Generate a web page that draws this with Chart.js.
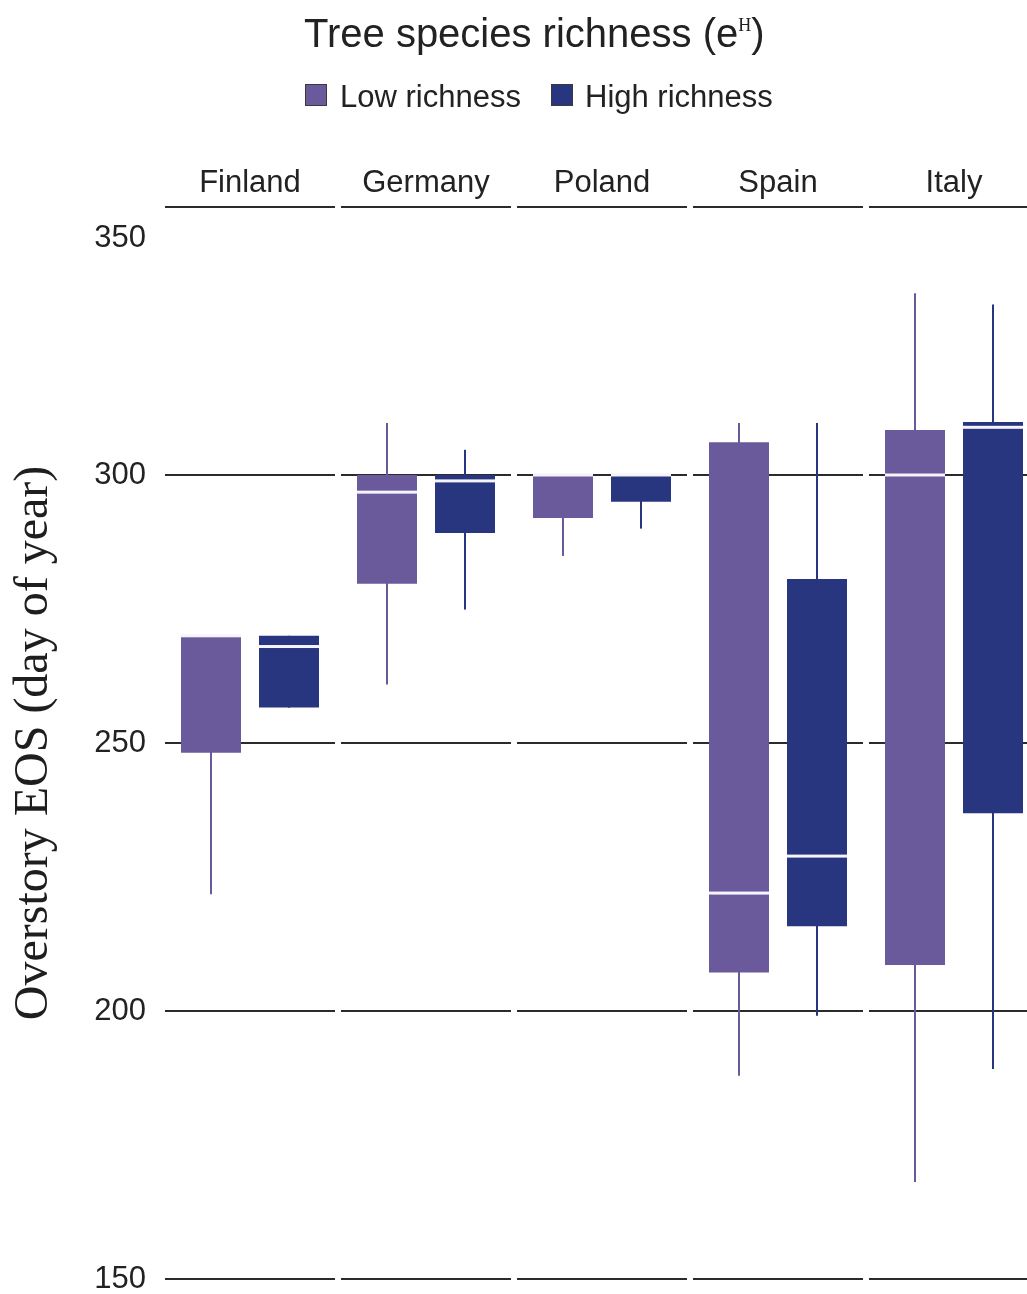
<!DOCTYPE html>
<html>
<head>
<meta charset="utf-8">
<script src="https://cdn.jsdelivr.net/npm/chart.js@4/dist/chart.umd.min.js"></script>
<style>
  html, body { margin: 0; padding: 0; background: #fff; overflow: hidden; }
  #wrap { position: relative; width: 1027px; height: 1294px; overflow: hidden; }
  #chart { position: absolute; left: 0; top: 0; }
  .hdr { position: absolute; font-family: 'Liberation Sans', Arial, sans-serif; color: #222; white-space: nowrap; }
  #title { left: 304px; top: 13px; font-size: 40px; line-height: 40px; }
  #title .sup { font-family: 'Liberation Serif', serif; font-size: 18px; position: relative; top: -16px; }
  .lg { top: 81px; font-size: 31px; line-height: 31px; }
  .sw { position: absolute; top: 84px; width: 20px; height: 20px; border: 1.5px solid #3a3a3a; }
</style>
</head>
<body>
<div id="wrap">
  <canvas id="chart" width="1046" height="1294"></canvas>
  <div id="title" class="hdr">Tree species richness (e<span class="sup">H</span>)</div>
  <div class="sw" style="left:305px;background:#6a5a9c"></div>
  <div class="hdr lg" style="left:340px">Low richness</div>
  <div class="sw" style="left:551px;background:#28357f"></div>
  <div class="hdr lg" style="left:585px">High richness</div>
</div>
<script>
// Facets and axis ticks
const countries = ['Finland', 'Germany', 'Poland', 'Spain', 'Italy'];
const yTicks = [150, 200, 250, 300, 350];
const gridValues = [150, 200, 250, 300];

// Overstory end of season (day of year), low tree species richness
const lowMin = [221.8, 260.9, 284.9, 187.9, 168.1];
const lowQ1  = [248.2, 279.7, 292.0, 207.2, 208.6];
const lowMed = [270.0, 296.8, 300.0, 222.0, 300.0];
const lowQ3  = [270.0, 300.0, 300.0, 306.1, 308.4];
const lowMax = [270.0, 309.7, 300.0, 309.7, 333.9];

// Overstory end of season (day of year), high tree species richness
const highMin = [256.6, 274.9, 290.0, 199.1, 189.2];
const highQ1  = [256.6, 289.2, 295.0, 215.8, 236.9];
const highMed = [268.0, 298.9, 300.0, 228.9, 308.9];
const highQ3  = [270.0, 300.0, 300.0, 280.6, 309.9];
const highMax = [270.0, 304.7, 300.0, 309.7, 331.8];

const LOW = '#6a5a9c';
const HIGH = '#28357f';
const pair = (a, b) => a.map((v, i) => [v, b[i]]);
const medianByDataset = { 0: lowMed, 1: highMed };

const barShape = { categoryPercentage: 0.8864, barPercentage: 0.769, borderWidth: 0, borderSkipped: false };

// Panel rules, gridlines with gaps between facets, y labels and medians
const facetDecor = {
  id: 'facetDecor',
  beforeDatasetsDraw(chart) {
    const { ctx, chartArea, scales: { x, y } } = chart;
    const half = (x.getPixelForValue(1) - x.getPixelForValue(0)) / 2;
    ctx.save();
    ctx.lineWidth = 2;
    ctx.strokeStyle = '#2b2b2b';
    const rows = gridValues.map(v => y.getPixelForValue(v)).concat([chartArea.top]);
    countries.forEach((c, i) => {
      const cx = x.getPixelForValue(i);
      const l = cx - half + 3, r = cx + half - 3;
      rows.forEach(py => {
        ctx.beginPath();
        ctx.moveTo(l, py);
        ctx.lineTo(r, py);
        ctx.stroke();
      });
    });
    ctx.fillStyle = '#222';
    ctx.font = '31px "Liberation Sans", Arial, sans-serif';
    ctx.textAlign = 'right';
    ctx.textBaseline = 'middle';
    yTicks.forEach(v => {
      // keep the top label clear of the strip rules
      const py = Math.max(y.getPixelForValue(v), chartArea.top + 31);
      ctx.fillText(String(v), 146, py);
    });
    ctx.restore();
  },
  afterDatasetsDraw(chart) {
    const { ctx, scales: { y } } = chart;
    ctx.save();
    ctx.fillStyle = '#f4f4fa';
    Object.keys(medianByDataset).forEach(k => {
      const meds = medianByDataset[k];
      chart.getDatasetMeta(+k).data.forEach((el, i) => {
        const py = y.getPixelForValue(meds[i]);
        ctx.fillRect(el.x - el.width / 2, py - 1.5, el.width, 3);
      });
    });
    ctx.restore();
  }
};

Chart.defaults.font.family = "'Liberation Sans', Arial, sans-serif";
Chart.defaults.color = '#222';

new Chart(document.getElementById('chart'), {
  type: 'bar',
  data: {
    labels: countries,
    datasets: [
      { label: 'Low richness', data: pair(lowQ1, lowQ3), backgroundColor: LOW, stack: 'low', ...barShape },
      { label: 'High richness', data: pair(highQ1, highQ3), backgroundColor: HIGH, stack: 'high', ...barShape },
      { label: 'Low richness range', data: pair(lowMin, lowMax), backgroundColor: LOW, stack: 'low', maxBarThickness: 2, ...barShape },
      { label: 'High richness range', data: pair(highMin, highMax), backgroundColor: HIGH, stack: 'high', maxBarThickness: 2, ...barShape }
    ]
  },
  options: {
    responsive: false,
    animation: false,
    layout: { padding: { top: 147, bottom: 15, left: 0, right: 4 } },
    plugins: { legend: { display: false }, tooltip: { enabled: false }, title: { display: false } },
    scales: {
      x: {
        type: 'category',
        position: 'top',
        grid: { display: false, drawTicks: false },
        border: { display: false },
        ticks: { font: { size: 31 }, color: '#222', padding: 5, maxRotation: 0, autoSkip: false },
        afterFit: s => { s.height = 60; }
      },
      y: {
        type: 'linear',
        min: 150,
        max: 350,
        stacked: false,
        grid: { display: false },
        border: { display: false },
        ticks: { display: false },
        title: {
          display: true,
          text: 'Overstory EOS (day of year)',
          font: { family: "'Liberation Serif', 'Times New Roman', serif", size: 48 },
          color: '#1e1e1e',
          padding: { top: 6 }
        },
        afterFit: s => { s.width = 162; }
      }
    }
  },
  plugins: [facetDecor]
});
</script>
</body>
</html>
